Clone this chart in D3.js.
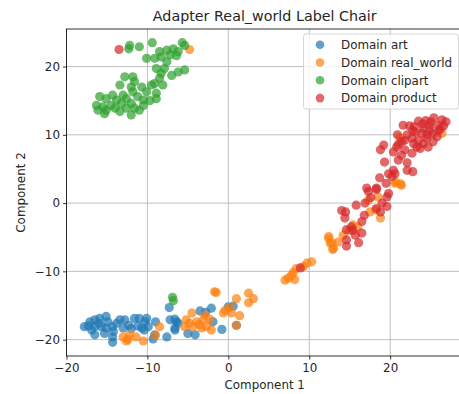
<!DOCTYPE html>
<html><head><meta charset="utf-8">
<script src="https://cdn.jsdelivr.net/npm/d3@7"></script>
<style>body{margin:0;background:#fff}svg{display:block}text{font-family:"DejaVu Sans",sans-serif;fill:#262626}</style>
</head><body><svg id="c" width="459" height="394"></svg>
<script>
const title = "Adapter Real_world Label Chair";
const domains = ["Domain art", "Domain real_world", "Domain clipart", "Domain product"];
const colors = ["#1f77b4", "#ff7f0e", "#2ca02c", "#d62728"];
const xTicks = [-20, -10, 0, 10, 20];
const yTicks = [-20, -10, 0, 10, 20];

const artPts = [[-17.8,-18.1],[-17.1,-17.4],[-16.5,-17.1],[-15.9,-16.9],[-15.1,-16.6],[-14.9,-17.4],[-13.4,-17.1],[-12.8,-17.1],[-11.6,-16.9],[-11.0,-16.9],[-10.1,-16.9],[-12.3,-17.9],[-16.5,-18.1],[-15.7,-18.1],[-15.1,-18.3],[-14.3,-18.1],[-16.9,-18.6],[-16.5,-19.3],[-15.3,-19.1],[-14.2,-18.8],[-10.7,-18.3],[-9.9,-18.1],[-10.3,-17.4],[-9.0,-17.4],[-7.2,-17.1],[-6.4,-17.4],[-6.6,-18.6],[-7.6,-19.6],[-9.1,-19.3],[-10.4,-18.6],[-14.3,-19.6],[-14.3,-20.4],[-7.3,-15.3],[-2.1,-15.4],[0.0,-15.2],[0.6,-15.1],[-1.9,-17.4],[-6.6,-17.0],[-6.2,-17.6],[-6.6,-18.3],[-5.0,-19.1],[-4.1,-19.3],[-13.8,-17.6],[-12.0,-18.4],[-16.0,-17.6],[-17.3,-18.0],[-13.0,-18.3],[-11.2,-18.0],[-9.3,-19.9],[1.0,-17.9],[-3.5,-15.8],[-2.8,-16.0],[-0.8,-18.5]];
const realPts = [[-4.8,22.5],[26.4,10.2],[21.2,9.6],[20.7,3.1],[21.3,2.8],[20.6,2.9],[21.4,2.6],[18.5,0.9],[17.3,0.4],[17.5,-1.3],[18.8,-2.2],[18.2,-1.0],[15.4,-3.2],[14.2,-4.7],[12.4,-4.9],[12.8,-5.8],[13.6,-5.7],[13.0,-6.6],[12.4,-5.2],[12.6,-5.9],[12.9,-6.8],[15.0,-4.0],[16.0,-3.5],[10.3,-8.6],[9.7,-8.8],[9.3,-9.3],[8.4,-9.6],[8.0,-10.2],[8.2,-11.2],[7.0,-11.3],[7.4,-11.0],[7.8,-10.6],[-13.0,-19.6],[-12.2,-19.3],[-12.4,-20.0],[-11.4,-19.6],[-10.5,-20.2],[-8.5,-18.1],[-9.0,-19.4],[-12.6,-20.2],[-1.7,-13.0],[1.0,-14.0],[2.5,-13.2],[3.1,-14.0],[2.5,-14.6],[-0.4,-15.7],[0.4,-16.1],[-0.6,-16.1],[1.4,-16.5],[0.2,-15.3],[-2.9,-16.4],[-3.1,-17.1],[-2.3,-17.0],[-2.7,-18.1],[-3.3,-18.3],[-2.1,-18.6],[-5.2,-17.1],[-4.8,-17.6],[-5.4,-18.1],[-4.4,-18.1],[-3.9,-17.4],[-4.5,-16.1],[1.0,-17.9],[-3.6,-17.8],[-1.5,-13.1]];
const clipPts = [[-12.2,23.1],[-12.3,22.6],[-11.0,22.9],[-9.4,23.5],[-5.7,23.5],[-5.4,23.1],[-8.5,22.2],[-7.6,22.4],[-6.8,22.6],[-6.2,22.2],[-8.3,21.4],[-7.2,21.7],[-6.4,21.6],[-10.1,21.2],[-9.1,21.2],[-7.6,20.7],[-7.9,19.7],[-8.9,19.7],[-5.4,19.5],[-6.2,19.2],[-7.0,18.7],[-8.3,19.0],[-8.5,18.3],[-9.1,17.5],[-8.1,17.3],[-12.8,18.5],[-11.8,18.5],[-11.6,17.8],[-13.4,17.3],[-12.0,17.0],[-10.7,17.0],[-9.5,17.3],[-11.8,16.3],[-10.1,16.3],[-8.9,16.1],[-13.0,15.8],[-14.3,15.8],[-15.9,15.6],[-15.1,15.3],[-13.8,15.1],[-12.6,15.3],[-11.2,15.6],[-10.5,15.1],[-12.0,14.6],[-13.2,14.6],[-14.5,14.3],[-16.3,14.3],[-15.5,14.1],[-16.1,13.6],[-15.1,13.6],[-14.0,13.9],[-10.5,14.3],[-11.6,13.9],[-12.6,13.9],[-13.4,13.4],[-12.0,12.9],[-11.0,13.6],[-15.3,13.1],[-8.9,15.3],[-9.7,15.0],[-6.9,-13.8],[-6.8,-14.3]];
const prodPts = [[-13.5,22.5],[25.4,12.5],[26.4,12.2],[26.9,11.9],[23.5,12.0],[21.6,11.4],[22.4,11.3],[24.9,11.4],[25.9,11.4],[24.1,10.9],[24.9,10.7],[26.2,10.9],[26.6,11.3],[23.1,10.4],[23.9,10.2],[25.3,10.2],[22.1,10.0],[21.8,9.2],[22.7,9.5],[23.5,9.2],[24.5,9.5],[25.8,9.7],[21.4,9.0],[22.9,8.7],[24.1,8.7],[25.3,9.0],[20.8,8.2],[19.2,8.5],[18.8,7.8],[20.4,7.5],[21.8,7.8],[22.7,7.3],[23.7,8.0],[24.7,8.2],[21.4,7.0],[21.0,6.3],[22.1,5.9],[19.3,6.0],[22.1,4.8],[22.8,4.6],[20.4,4.8],[20.6,4.3],[18.7,3.7],[20.2,3.9],[17.1,2.2],[18.3,2.2],[19.8,4.3],[19.5,2.9],[18.3,2.0],[17.3,1.7],[19.8,1.4],[19.6,0.9],[16.9,0.0],[15.8,-0.3],[19.0,0.0],[19.6,-0.5],[18.3,-0.8],[18.8,-1.3],[14.0,-1.1],[14.5,-1.3],[14.4,-2.2],[16.5,-2.7],[15.4,-4.0],[14.6,-3.9],[16.5,-4.4],[15.7,-4.7],[14.6,-5.4],[16.1,-5.8],[14.6,-6.3],[8.9,-9.5],[17.6,0.8],[16.8,-1.8],[15.2,-3.5],[23.0,11.2],[20.9,10.0],[24.4,12.1],[24.0,11.6],[25.0,11.9],[22.8,10.6],[24.6,10.0],[26.0,10.6],[21.0,8.6],[23.3,8.2]];
const series = [artPts, realPts, clipPts, prodPts];

const svg = d3.select("#c");
const m = {l: 66.5, t: 29, r: 463, b: 356};
const x = d3.scaleLinear().domain([-20, 29]).range([m.l, m.r]);
const y = d3.scaleLinear().domain([-22.4, 25.5]).range([m.b, m.t]);
const fs = 11.9;
const fmt = d => d3.format("d")(d).replace("-", "\u2212");

// grid
const g = svg.append("g");
g.selectAll(".gx").data(xTicks).enter().append("line")
  .attr("x1", d => x(d)).attr("x2", d => x(d)).attr("y1", m.t).attr("y2", m.b)
  .attr("stroke", "#b0b0b0").attr("stroke-width", 0.8);
g.selectAll(".gy").data(yTicks).enter().append("line")
  .attr("y1", d => y(d)).attr("y2", d => y(d)).attr("x1", m.l).attr("x2", m.r)
  .attr("stroke", "#b0b0b0").attr("stroke-width", 0.8);

// points
series.forEach((pts, i) => {
  svg.append("g").selectAll("circle").data(pts).enter().append("circle")
    .attr("cx", d => x(d[0])).attr("cy", d => y(d[1])).attr("r", 4.6)
    .attr("fill", colors[i]).attr("fill-opacity", 0.7);
});

// axes
const xa = svg.append("g").attr("transform", `translate(0,${m.b})`)
  .call(d3.axisBottom(x).tickValues(xTicks).tickSize(3.5).tickPadding(4).tickFormat(fmt));
const ya = svg.append("g").attr("transform", `translate(${m.l},0)`)
  .call(d3.axisLeft(y).tickValues(yTicks).tickSize(3.5).tickPadding(3).tickFormat(fmt));
[xa, ya].forEach(a => {
  a.select(".domain").remove();
  a.selectAll("line").attr("stroke", "#000").attr("stroke-width", 0.8);
  a.selectAll("text").attr("font-size", fs).attr("font-family", "DejaVu Sans").attr("fill", "#262626");
});
// spines
svg.append("rect").attr("x", m.l).attr("y", m.t).attr("width", m.r - m.l).attr("height", m.b - m.t)
  .attr("fill", "none").attr("stroke", "#000").attr("stroke-width", 0.8);

// labels
svg.append("text").attr("x", (m.l + m.r) / 2).attr("y", 21).attr("text-anchor", "middle")
  .attr("font-size", 14.3).text(title);
svg.append("text").attr("x", (m.l + m.r) / 2).attr("y", 389).attr("text-anchor", "middle")
  .attr("font-size", fs).text("Component 1");
svg.append("text").attr("transform", `translate(25,${(m.t + m.b) / 2}) rotate(-90)`).attr("text-anchor", "middle")
  .attr("font-size", fs).text("Component 2");

// legend
const lg = svg.append("g");
lg.append("rect").attr("x", 303.5).attr("y", 34).attr("width", 155).attr("height", 75).attr("rx", 2.5)
  .attr("fill", "#fff").attr("fill-opacity", 0.8).attr("stroke", "#cccccc").attr("stroke-width", 0.8);
domains.forEach((d, i) => {
  const yy = 44.7 + i * 17.8;
  lg.append("circle").attr("cx", 320).attr("cy", yy).attr("r", 4.3).attr("fill", colors[i]).attr("fill-opacity", 0.7);
  lg.append("text").attr("x", 341).attr("y", yy + 4.3).attr("font-size", fs).text(d);
});
</script></body></html>
